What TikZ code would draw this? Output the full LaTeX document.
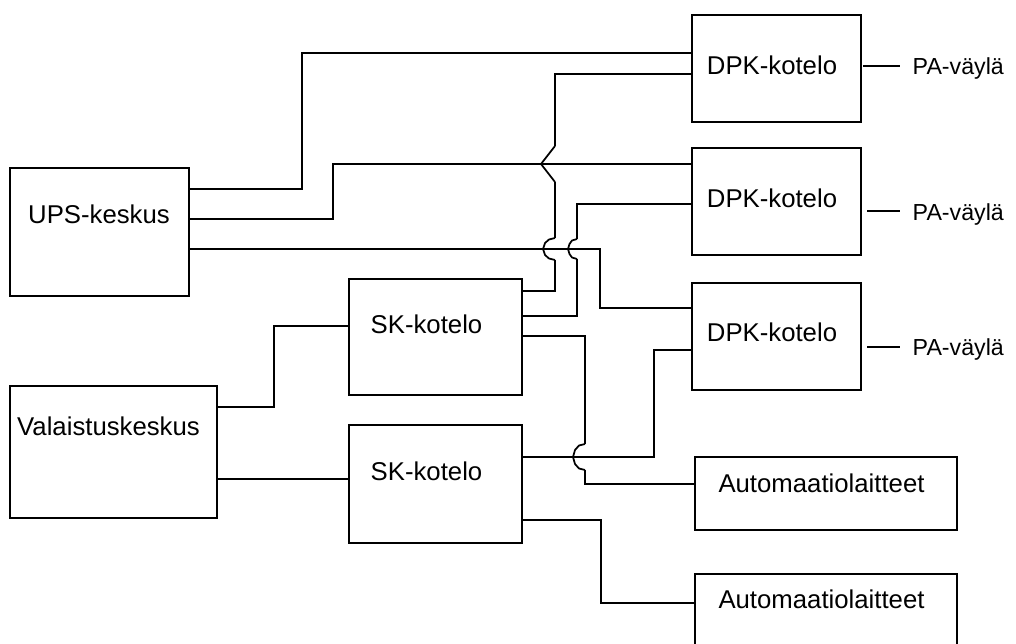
\documentclass[tikz,border=0pt]{standalone}
\usepackage{fontspec}
\setmainfont{Liberation Sans}
\usetikzlibrary{calc}
\begin{document}
\begin{tikzpicture}[x=0.75pt,y=-0.75pt,line width=1.1pt,
  bx/.style 2 args={draw,rectangle,inner sep=0pt,outer sep=0pt,
    minimum width=#1*0.75pt,minimum height=#2*0.75pt},
  txt/.style={anchor=base,inner sep=0pt,font=\fontsize{19.3}{23}\selectfont},
  pa/.style={anchor=base west,inner ysep=0pt,inner xsep=9pt,font=\fontsize{17.4}{21}\selectfont},
  hop/.style={line width=1.3pt,line join=round}]
\useasboundingbox (0,0) rectangle (1016,643);
% boxes
\node[bx={179}{128}] (ups) at (99.5,232) {};
\node[bx={207}{132}] (val) at (113.5,452) {};
\node[bx={173}{116}] (sk1) at (435.5,337) {};
\node[bx={173}{118}] (sk2) at (435.5,484) {};
\node[bx={169}{107}] (dpk1) at (776.5,68.5) {};
\node[bx={169}{107}] (dpk2) at (776.5,201.5) {};
\node[bx={169}{107}] (dpk3) at (776.5,336.5) {};
\node[bx={262}{73}] (aut1) at (826,493.5) {};
\node[bx={262}{76}] (aut2) at (826,612) {};
% labels
\node[txt] (tups) at (99,223) {UPS-keskus};
\node[txt] (tval) at (108.5,435) {Valaistuskeskus};
\node[txt] (tsk1) at (426.5,333) {SK-kotelo};
\node[txt] (tsk2) at (426.5,480) {SK-kotelo};
\node[txt] (td1) at (772,74) {DPK-kotelo};
\node[txt] (td2) at (772,207) {DPK-kotelo};
\node[txt] (td3) at (772,341) {DPK-kotelo};
\node[txt] (ta1) at (821.5,492) {Automaatiolaitteet};
\node[txt] (ta2) at (821.5,608) {Automaatiolaitteet};
\node[pa] (pa1) at (900,74) {PA-väylä};
\node[pa] (pa2) at (900,220) {PA-väylä};
\node[pa] (pa3) at (900,355) {PA-väylä};
% jump end points
\coordinate (j1a) at (555,260); \coordinate (j1b) at (555,238);
\coordinate (j2a) at (555,182); \coordinate (j2b) at (555,146);
\coordinate (j3a) at (577,259); \coordinate (j3b) at (577,239);
\coordinate (j4a) at (585,444); \coordinate (j4b) at (585,470);
% UPS connectors
\draw ($(ups.north east)+(0,21)$) -- (302,189) |- ($(dpk1.north west)+(0,38)$);
\draw ($(ups.north east)+(0,51)$) -- (333,219) |- ($(dpk2.north west)+(0,16)$);
\draw ($(ups.north east)+(0,81)$) -- (600,249) |- ($(dpk3.north west)+(0,25)$);
% Valaistuskeskus connectors
\draw ($(val.north east)+(0,21)$) -- (274,407) |- ($(sk1.north west)+(0,47)$);
\draw ($(val.north east)+(0,93)$) -- ($(sk2.north west)+(0,54)$);
% SK1 connectors (straight parts)
\draw ($(sk1.north east)+(0,12)$) -- (555,291) -- (j1a);
\draw (j1b) -- (j2a);
\draw (j2b) |- ($(dpk1.north west)+(0,59)$);
\draw ($(sk1.north east)+(0,37)$) -- (577,316) -- (j3a);
\draw (j3b) |- ($(dpk2.north west)+(0,56)$);
\draw ($(sk1.north east)+(0,57)$) -- (585,336) -- (j4a);
\draw (j4b) |- ($(aut1.north west)+(0,27)$);
% line jumps
\draw[hop] (j1a) -- (549,258.5) -- (545,255) -- (543,249) -- (545,243) -- (549,239.5) -- (j1b);
\draw[hop] (j2a) -- (541,164) -- (j2b);
\draw[hop] (j3a) -- (572,257.5) -- (569.5,254) -- (568,249) -- (569.5,244) -- (572,240.5) -- (j3b);
\draw[hop] (j4a) -- (579,445.5) -- (575,450) -- (573,457) -- (575,464) -- (579,468.5) -- (j4b);
% SK2 connectors
\draw ($(sk2.north east)+(0,32)$) -- (654,457) |- ($(dpk3.north west)+(0,67)$);
\draw ($(sk2.north east)+(0,95)$) -- (601,520) |- ($(aut2.north west)+(0,29)$);
% PA lines
\draw ($(dpk1.north east)+(2,51)$) coordinate (p1) -- (p1 -| pa1.west);
\draw ($(dpk2.north east)+(6,63)$) coordinate (p2) -- (p2 -| pa2.west);
\draw ($(dpk3.north east)+(6,64)$) coordinate (p3) -- (p3 -| pa3.west);
\end{tikzpicture}
\end{document}
